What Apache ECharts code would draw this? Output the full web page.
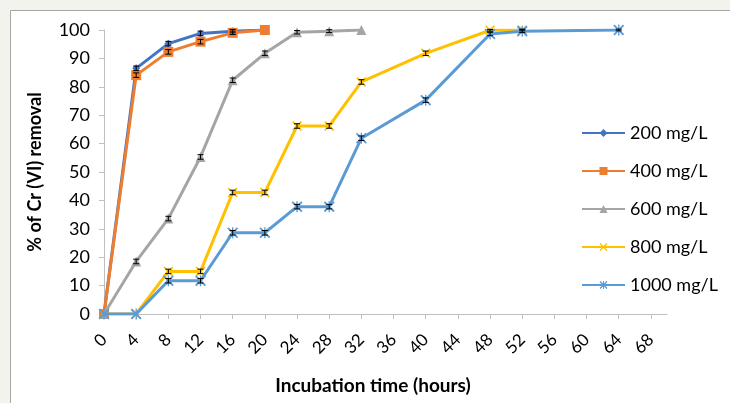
<!DOCTYPE html>
<html>
<head>
<meta charset="utf-8">
<script src="https://cdn.jsdelivr.net/npm/echarts@6/dist/echarts.min.js"></script>
<style>html,body{margin:0;padding:0;background:#f3f3ee;}#c{width:730px;height:403px;}</style>
</head>
<body>
<div id="c"></div>
<script>
// ---- data ----
const seriesNames = ['200 mg/L', '400 mg/L', '600 mg/L', '800 mg/L', '1000 mg/L'];
const xTickValues = [0, 4, 8, 12, 16, 20, 24, 28, 32, 36, 40, 44, 48, 52, 56, 60, 64, 68];
const yTickValues = [0, 10, 20, 30, 40, 50, 60, 70, 80, 90, 100];

const time200 = [0, 4, 8, 12, 16, 20];
const removal200 = [0, 86.5, 95.2, 98.8, 99.6, 100];
const err200 = [0, 0.8, 0.8, 0.8, 0.6, 0];

const time400 = [0, 4, 8, 12, 16, 20];
const removal400 = [0, 84.1, 92.3, 95.9, 99.0, 100];
const err400 = [0, 0.8, 0.8, 0.8, 0.6, 0];

const time600 = [0, 4, 8, 12, 16, 20, 24, 28, 32];
const removal600 = [0, 18.5, 33.6, 55.3, 82.3, 91.8, 99.2, 99.6, 100];
const err600 = [0, 0.8, 0.8, 0.8, 0.8, 0.8, 0.6, 0.5, 0];

const time800 = [0, 4, 8, 12, 16, 20, 24, 28, 32, 40, 48, 52];
const removal800 = [0, 0, 15.0, 15.0, 42.8, 42.8, 66.2, 66.2, 81.7, 91.8, 99.9, 100];
const err800 = [0, 0, 0.8, 0.8, 0.8, 0.8, 0.8, 0.8, 0.8, 0.8, 0.3, 0.3];

const time1000 = [0, 4, 8, 12, 16, 20, 24, 28, 32, 40, 48, 52, 64];
const removal1000 = [0, 0, 11.7, 11.7, 28.6, 28.6, 37.8, 37.8, 61.9, 75.3, 98.6, 99.6, 100];
const err1000 = [0, 0, 0.8, 0.8, 0.8, 0.8, 0.8, 0.8, 0.8, 0.8, 0.6, 0.5, 0.3];

// ---- build ----
const times = [time200, time400, time600, time800, time1000];
const values = [removal200, removal400, removal600, removal800, removal1000];
const errs = [err200, err400, err600, err800, err1000];
const colors = ['#4472C4', '#ED7D31', '#A5A5A5', '#FFC000', '#5B9BD5'];
const xPath = 'path://M0,1.2L1.2,0L5,3.8L8.8,0L10,1.2L6.2,5L10,8.8L8.8,10L5,6.2L1.2,10L0,8.8L3.8,5Z';
const starPath = 'path://M0,1.2L1.2,0L5,3.8L8.8,0L10,1.2L6.2,5L10,8.8L8.8,10L5,6.2L1.2,10L0,8.8L3.8,5Z M4.4,0L5.6,0L5.6,10L4.4,10Z';
const symbols = ['diamond', 'rect', 'triangle', xPath, starPath];
const symbolSizes = [8, 10, 10, 10, 11];

const FONT = 'Lato, "Open Sans", sans-serif';

const series = [];
seriesNames.forEach((name, i) => {
  const data = times[i].map((t, j) => [t, values[i][j]]);
  series.push({
    name: name,
    type: 'line',
    data: data,
    color: colors[i],
    symbol: symbols[i],
    symbolSize: symbolSizes[i],
    showAllSymbol: true,
    lineStyle: { width: 3, color: colors[i] },
    itemStyle: { color: colors[i] },
    emphasis: { disabled: true },
    animation: false,
    z: 2 + i
  });
});
seriesNames.forEach((name, i) => {
  const data = times[i].map((t, j) => [t, values[i][j], errs[i][j]]);
  series.push({
    type: 'custom',
    name: name + ' err',
    data: data,
    z: 20,
    animation: false,
    silent: true,
    renderItem: function (params, api) {
      const x = api.value(0), y = api.value(1), e = api.value(2);
      if (!e) return null;
      const hi = api.coord([x, y + e]);
      const lo = api.coord([x, y - e]);
      const w = 3;
      const st = { stroke: '#000', lineWidth: 1 };
      return {
        type: 'group',
        children: [
          { type: 'line', shape: { x1: hi[0], y1: hi[1], x2: lo[0], y2: lo[1] }, style: st },
          { type: 'line', shape: { x1: hi[0] - w, y1: hi[1], x2: hi[0] + w, y2: hi[1] }, style: st },
          { type: 'line', shape: { x1: lo[0] - w, y1: lo[1], x2: lo[0] + w, y2: lo[1] }, style: st }
        ]
      };
    }
  });
});

const chart = echarts.init(document.getElementById('c'));
chart.setOption({
  backgroundColor: '#f3f3ee',
  animation: false,
  graphic: [
    { type: 'rect', z: -10, shape: { x: 10.5, y: 10.5, width: 740, height: 420 },
      style: { fill: '#ffffff', stroke: '#a6a6a6', lineWidth: 1 } },
    { type: 'text', x: 373, y: 386, z: 10,
      style: { text: 'Incubation time (hours)', fill: '#000', font: 'bold 19px ' + FONT,
        textAlign: 'center', textVerticalAlign: 'middle' } }
  ],
  grid: { left: 104, top: 30, width: 563, height: 284, containLabel: false },
  legend: {
    data: seriesNames,
    orient: 'vertical',
    left: 576,
    top: 119,
    itemWidth: 43,
    itemHeight: 10,
    itemGap: 20,
    textStyle: { fontFamily: FONT, fontSize: 18, color: '#000', lineHeight: 16 },
    selectedMode: false
  },
  xAxis: {
    type: 'value',
    min: 0,
    max: 70,
    splitLine: { show: false },
    axisLine: { lineStyle: { color: '#bfbfbf', width: 1 } },
    axisTick: { show: true, length: 5, lineStyle: { color: '#bfbfbf' }, customValues: xTickValues },
    axisLabel: { customValues: xTickValues, rotate: 45, margin: 23, fontFamily: FONT, fontSize: 17, color: '#000' }
  },
  yAxis: {
    type: 'value',
    min: 0,
    max: 100,
    interval: 10,
    name: '% of Cr (VI) removal',
    nameLocation: 'middle',
    nameGap: 60,
    nameTextStyle: { fontFamily: FONT, fontSize: 18, fontWeight: 'bold', color: '#000' },
    splitLine: { show: false },
    axisLine: { show: true, lineStyle: { color: '#bfbfbf', width: 1 } },
    axisTick: { show: true, length: 5, lineStyle: { color: '#bfbfbf' } },
    axisLabel: { margin: 14, fontFamily: FONT, fontSize: 18, color: '#000' }
  },
  series: series
});
</script>
</body>
</html>
